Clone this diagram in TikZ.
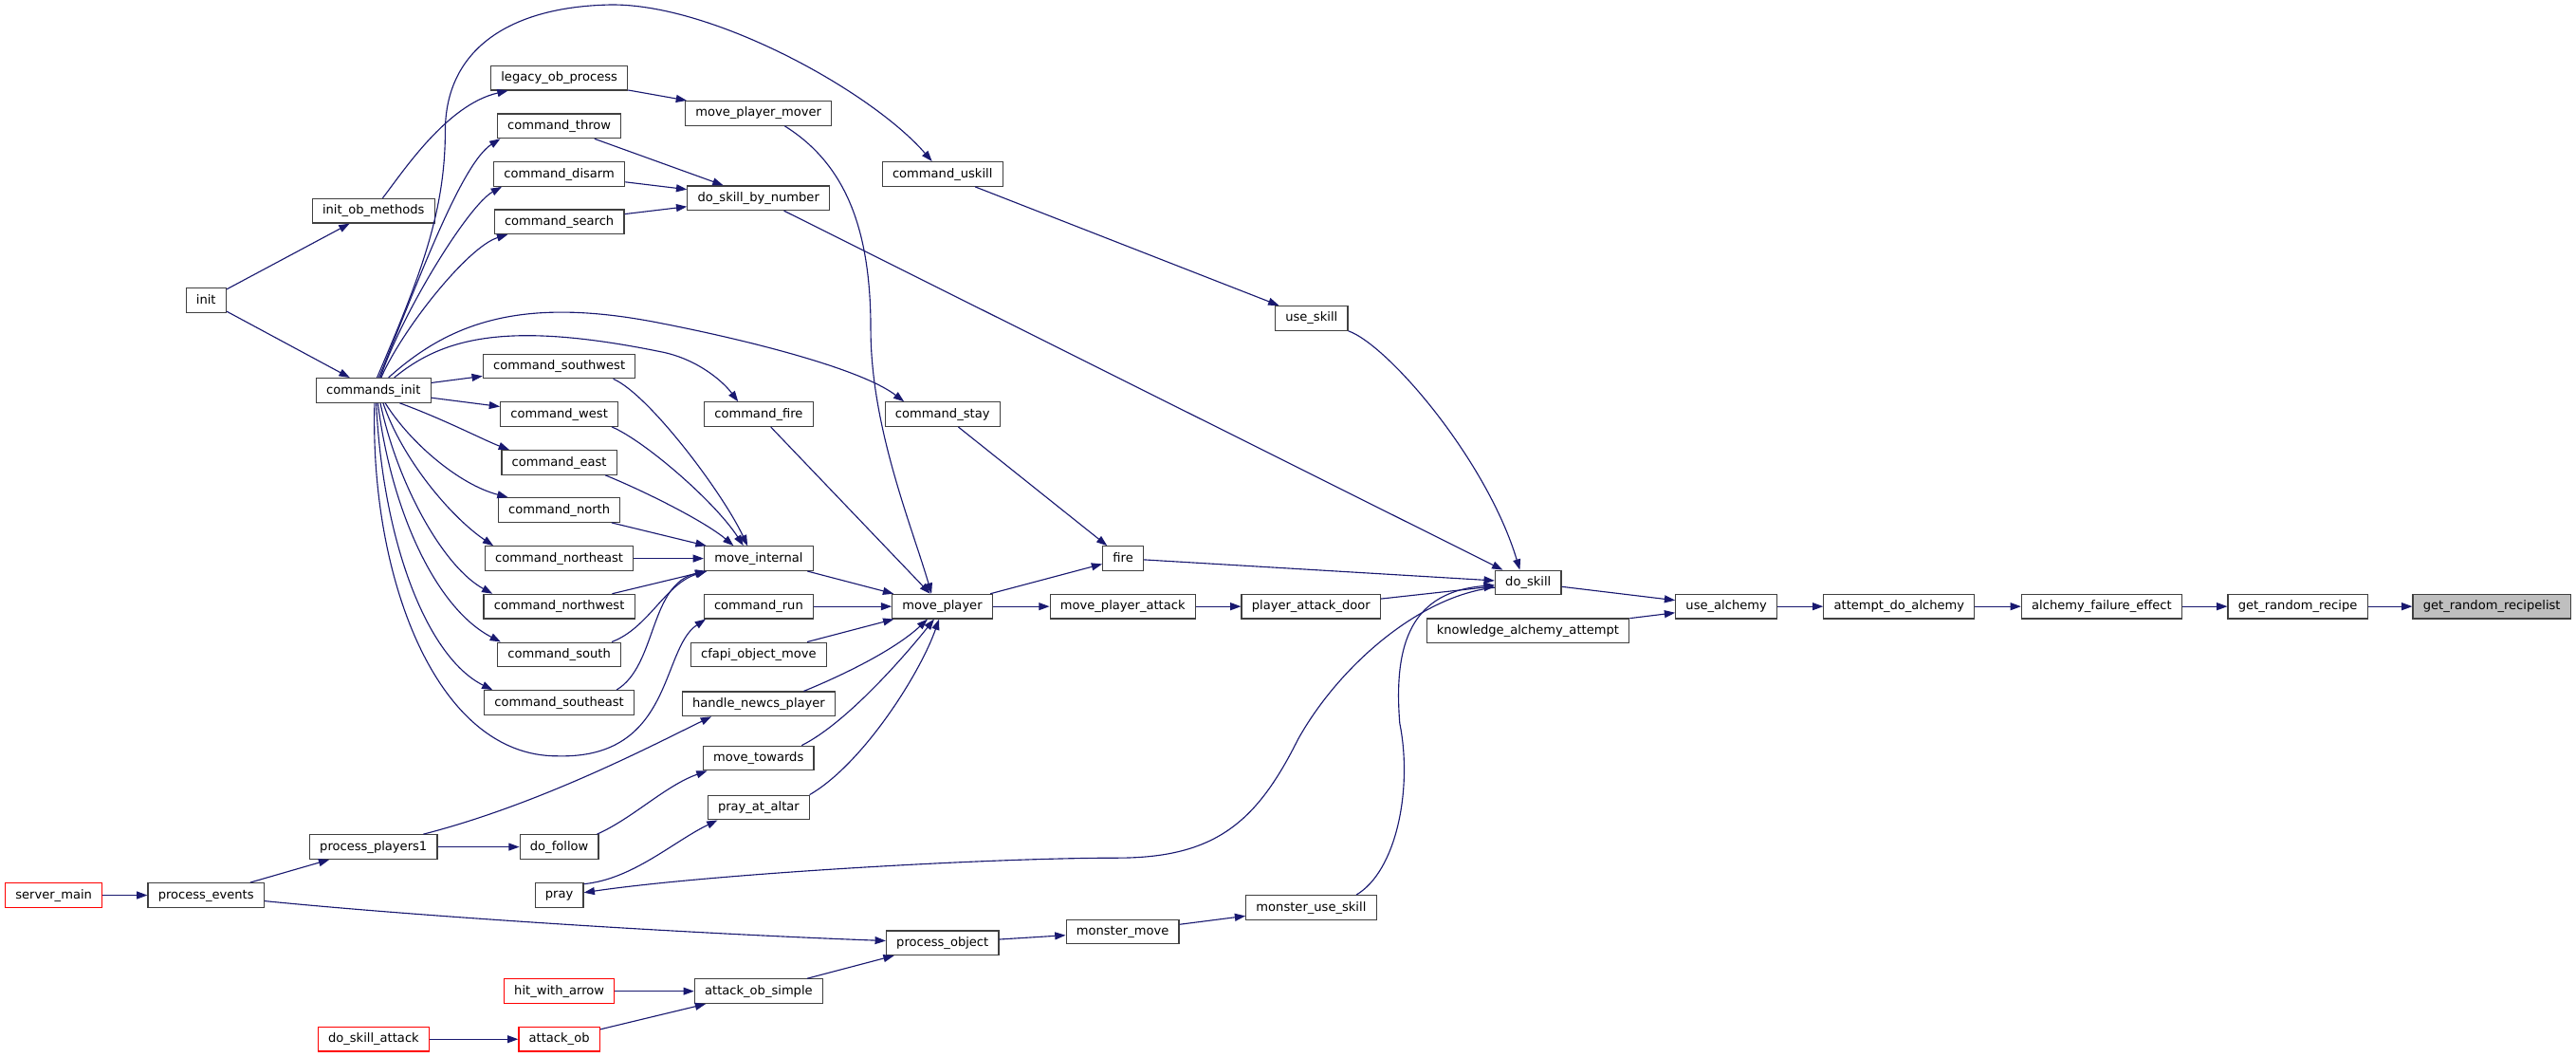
\documentclass[tikz,border=0pt]{standalone}
\usepackage{fontspec}
\newfontfamily\fnfont{DejaVu Sans}
\usetikzlibrary{arrows.meta}
\definecolor{edgeblue}{HTML}{191970}
\definecolor{boxgray}{HTML}{404040}
\definecolor{selgray}{HTML}{BFBFBF}
\tikzset{
  fnbox/.style={draw=boxgray, fill=white, line width=0.7pt, inner xsep=6.2pt, inner ysep=0pt,
    minimum height=14.8pt, text height=5.8pt, text depth=1.6pt, font=\fnfont\fontsize{7.55}{9}\selectfont},
  trunc/.style={fnbox, draw=red},
  cur/.style={fnbox, fill=selgray},
  call/.style={->, draw=edgeblue, line width=0.65pt}
}
\begin{document}
\begin{tikzpicture}[x=1pt,y=-1pt,>={Triangle[length=6.5pt,width=4.6pt]}]
	\useasboundingbox (0,0) rectangle (1568,643);
	\node[fnbox] (init) at (125.4,182.7) {init};
	\node[fnbox] (obm) at (227.3,128.3) {init\_ob\_methods};
	\node[fnbox] (cmds) at (227.3,237.5) {commands\_init};
	\node[fnbox] (legacy) at (340.4,47.4) {legacy\_ob\_process};
	\node[fnbox] (cthrow) at (340.4,76.7) {command\_throw};
	\node[fnbox] (cdisarm) at (340.4,105.9) {command\_disarm};
	\node[fnbox] (csearch) at (340.4,135) {command\_search};
	\node[fnbox] (csw) at (340.4,222.8) {command\_southwest};
	\node[fnbox] (cwest) at (340.4,252) {command\_west};
	\node[fnbox] (ceast) at (340.4,281.4) {command\_east};
	\node[fnbox] (cnorth) at (340.4,310.3) {command\_north};
	\node[fnbox] (cne) at (340.4,339.8) {command\_northeast};
	\node[fnbox] (cnw) at (340.4,369) {command\_northwest};
	\node[fnbox] (csouth) at (340.4,398.3) {command\_south};
	\node[fnbox] (cse) at (340.4,427.5) {command\_southeast};
	\node[fnbox] (pp1) at (227.3,515.3) {process\_players1};
	\node[fnbox] (dofollow) at (340.4,515.3) {do\_follow};
	\node[fnbox] (pray) at (340.4,544.6) {pray};
	\node[trunc] (smain) at (32.7,544.7) {server\_main};
	\node[fnbox] (pevents) at (125.4,544.7) {process\_events};
	\node[trunc] (hit) at (340.4,603.1) {hit\_with\_arrow};
	\node[trunc] (dsattack) at (227.4,632.3) {do\_skill\_attack};
	\node[trunc] (aob) at (340.4,632.3) {attack\_ob};
	\node[fnbox] (mover) at (461.7,68.9) {move\_player\_mover};
	\node[fnbox] (dsbn) at (461.7,120.5) {do\_skill\_by\_number};
	\node[fnbox] (cuskill) at (573.7,105.9) {command\_uskill};
	\node[fnbox] (useskill) at (798.3,193.6) {use\_skill};
	\node[fnbox] (cfire) at (461.8,252.1) {command\_fire};
	\node[fnbox] (cstay) at (573.7,252.1) {command\_stay};
	\node[fnbox] (minternal) at (461.8,339.8) {move\_internal};
	\node[fnbox] (fire) at (683.6,339.8) {fire};
	\node[fnbox] (crun) at (461.8,369) {command\_run};
	\node[fnbox] (mplayer) at (573.6,369) {move\_player};
	\node[fnbox] (mpattack) at (683.4,369) {move\_player\_attack};
	\node[fnbox] (padoor) at (798,369) {player\_attack\_door};
	\node[fnbox] (cfapi) at (461.8,398.3) {cfapi\_object\_move};
	\node[fnbox] (newcs) at (461.8,428.3) {handle\_newcs\_player};
	\node[fnbox] (mtowards) at (461.7,461.3) {move\_towards};
	\node[fnbox] (altar) at (461.8,491.3) {pray\_at\_altar};
	\node[fnbox] (muse) at (798.1,552.2) {monster\_use\_skill};
	\node[fnbox] (mmove) at (683.3,566.9) {monster\_move};
	\node[fnbox] (pobject) at (573.7,573.7) {process\_object};
	\node[fnbox] (aos) at (461.8,603.1) {attack\_ob\_simple};
	\node[fnbox] (doskill) at (930.2,354.5) {do\_skill};
	\node[fnbox] (kaa) at (930,383.8) {knowledge\_alchemy\_attempt};
	\node[fnbox] (ualch) at (1050.8,369) {use\_alchemy};
	\node[fnbox] (ada) at (1156,369) {attempt\_do\_alchemy};
	\node[fnbox] (afe) at (1279.3,369) {alchemy\_failure\_effect};
	\node[fnbox] (grr) at (1398.6,369) {get\_random\_recipe};
	\node[cur] (grl) at (1516.7,369) {get\_random\_recipelist};

	\draw[call] (init) -- (obm);
	\draw[call] (init) -- (cmds);
	\draw[call] ([xshift=5.6pt]obm.north) .. controls (245,105) and (271.8,63.7) .. ([xshift=-31.2pt]legacy.south);
	\draw[call] ([xshift=3.3pt]cmds.north) .. controls (252,178) and (280,100) .. ([xshift=-35.9pt]cthrow.south);
	\draw[call] ([xshift=4.2pt]cmds.north) .. controls (245,190) and (285,125) .. ([xshift=-35pt]cdisarm.south);
	\draw[call] ([xshift=4.7pt]cmds.north) .. controls (245,200) and (285,150) .. ([xshift=-31.4pt]csearch.south);
	\draw[call] ([xshift=2.2pt]cmds.north) .. controls (255,170) and (271,130) .. (271,80)
		.. controls (271,30) and (310,5) .. (368,3)
		.. controls (430,0) and (530,55) .. ([xshift=-6.4pt]cuskill.north);
	\draw[call] ([xshift=12.7pt]cmds.north) .. controls (270,205) and (310,195) .. (404,214.4)
		.. controls (425,219) and (440,232) .. ([xshift=-12.5pt]cfire.north);
	\draw[call] ([xshift=9.2pt]cmds.north) .. controls (275,195) and (320,180) .. (404,197)
		.. controls (460,208) and (525,225) .. ([xshift=-23.4pt]cstay.north);
	\draw[call] (cmds) -- (csw);
	\draw[call] (cmds) -- (cwest);
	\draw[call] ([xshift=16pt]cmds.south) .. controls (270,255) and (295,268) .. ([xshift=-30.4pt]ceast.north);
	\draw[call] ([xshift=7.2pt]cmds.south) .. controls (250,270) and (280,295) .. ([xshift=-31.2pt]cnorth.north);
	\draw[call] ([xshift=5.9pt]cmds.south) .. controls (245,280) and (275,315) .. ([xshift=-40.1pt]cne.north);
	\draw[call] ([xshift=4.2pt]cmds.south) .. controls (242,295) and (270,345) .. ([xshift=-40.6pt]cnw.north);
	\draw[call] ([xshift=2.7pt]cmds.south) .. controls (238,310) and (265,370) .. ([xshift=-35.6pt]csouth.north);
	\draw[call] ([xshift=1.7pt]cmds.south) .. controls (233,330) and (260,400) .. ([xshift=-40.6pt]cse.north);
	\draw[call] ([xshift=0.7pt]cmds.south) .. controls (225,350) and (265,460) .. (339,460)
		.. controls (410,462) and (402,395) .. ([xshift=-32.3pt]crun.south);
	\draw[call] (legacy) -- (mover);
	\draw[call] (cthrow) -- (dsbn);
	\draw[call] (cdisarm) -- (dsbn);
	\draw[call] (csearch) -- (dsbn);
	\draw[call] ([xshift=15.9pt]mover.south) .. controls (515,100) and (530,140) .. (530,200)
		.. controls (530,260) and (555,320) .. ([xshift=-6.6pt]mplayer.north);
	\draw[call] (dsbn) -- (doskill);
	\draw[call] (cuskill) -- (useskill);
	\draw[call] (useskill.south east) .. controls (845,210) and (905,280) .. ([xshift=-5.1pt]doskill.north);
	\draw[call] (cfire) -- (mplayer);
	\draw[call] (cstay) -- (fire);
	\draw[call] ([xshift=32.9pt]csw.south) .. controls (395,240) and (440,300) .. ([xshift=-6.8pt]minternal.north);
	\draw[call] ([xshift=32pt]cwest.south) .. controls (392,268) and (435,305) .. ([xshift=-9.3pt]minternal.north);
	\draw[call] ([xshift=28.1pt]ceast.south) .. controls (395,300) and (430,318) .. ([xshift=-15.3pt]minternal.north);
	\draw[call] (cnorth) -- (minternal);
	\draw[call] (cne) -- (minternal);
	\draw[call] (cnw) -- (minternal);
	\draw[call] ([xshift=32pt]csouth.north) .. controls (395,382) and (405,355) .. ([xshift=-31.6pt]minternal.south);
	\draw[call] ([xshift=34.9pt]cse.north) .. controls (400,405) and (395,355) .. ([xshift=-31.6pt]minternal.south);
	\draw[call] (minternal) -- (mplayer);
	\draw[call] (crun) -- (mplayer);
	\draw[call] (cfapi) -- (mplayer);
	\draw[call] ([xshift=27.4pt]newcs.north) .. controls (515,410) and (545,395) .. ([xshift=-9pt]mplayer.south);
	\draw[call] ([xshift=26.3pt]mtowards.north) .. controls (515,440) and (550,400) .. ([xshift=-5pt]mplayer.south);
	\draw[call] ([xshift=31pt]altar.north) .. controls (525,465) and (560,410) .. ([xshift=-2pt]mplayer.south);
	\draw[call] (mplayer) -- (fire);
	\draw[call] (mplayer) -- (mpattack);
	\draw[call] (mpattack) -- (padoor);
	\draw[call] (fire) -- (doskill);
	\draw[call] (padoor) -- (doskill);
	\draw[call] ([xshift=27.5pt]muse.north) .. controls (850,530) and (860,480) .. (852,440)
		.. controls (848,390) and (860,360) .. ([yshift=-1.5pt]doskill.west);
	\draw[call] ([yshift=-3pt]doskill.west) .. controls (865,362) and (815,405) .. (790,450)
		.. controls (765,500) and (740,522) .. (680,522)
		.. controls (600,522) and (430,532) .. ([yshift=1.5pt]pray.east);
	\draw[call] ([yshift=-1pt]pray.north east) .. controls (385,535) and (410,512) .. ([xshift=-25.1pt]altar.south);
	\draw[call] (doskill) -- (ualch);
	\draw[call] (kaa) -- (ualch);
	\draw[call] (ualch) -- (ada);
	\draw[call] (ada) -- (afe);
	\draw[call] (afe) -- (grr);
	\draw[call] (grr) -- (grl);
	\draw[call] (smain) -- (pevents);
	\draw[call] (pevents) -- (pp1);
	\draw[call] (pevents) .. controls (260,558) and (420,568) .. (pobject);
	\draw[call] (pp1) -- (dofollow);
	\draw[call] ([xshift=30.4pt]pp1.north) .. controls (330,489) and (400,452) .. ([xshift=-28.8pt]newcs.south);
	\draw[call] ([xshift=23pt]dofollow.north) .. controls (385,498) and (405,478) .. ([xshift=-31.3pt]mtowards.south);
	\draw[call] (pobject) -- (mmove);
	\draw[call] (mmove) -- (muse);
	\draw[call] (aos) -- (pobject);
	\draw[call] (hit) -- (aos);
	\draw[call] (aob) -- (aos);
	\draw[call] (dsattack) -- (aob);
\end{tikzpicture}
\end{document}
